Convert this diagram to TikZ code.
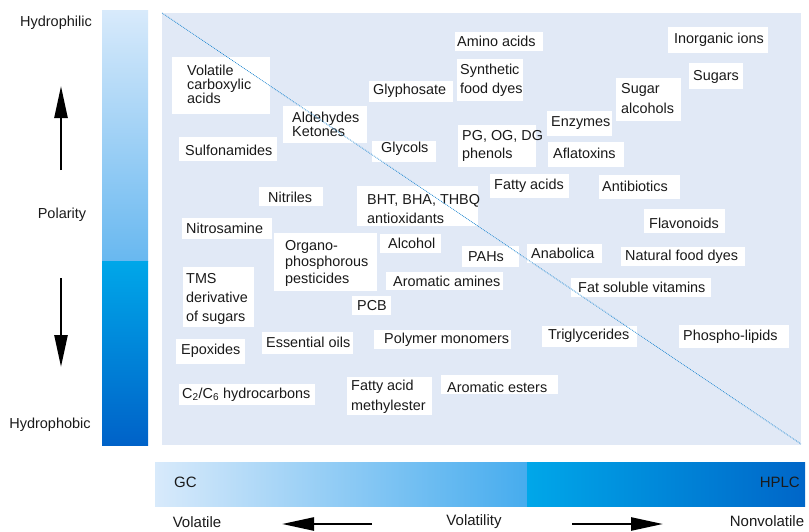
\documentclass[tikz,border=0pt]{standalone}
\usepackage{fontspec}
\setmainfont{Liberation Sans}
\usetikzlibrary{arrows.meta}
\definecolor{panelc}{RGB}{225,233,246}
\definecolor{txt}{RGB}{26,26,26}
\definecolor{barA}{RGB}{216,234,251}
\definecolor{barB}{RGB}{104,184,240}
\definecolor{barC}{RGB}{0,167,233}
\definecolor{barD}{RGB}{0,98,200}
\definecolor{hbarB}{RGB}{70,172,238}
\definecolor{hbarD}{RGB}{0,102,200}
\definecolor{diagc}{RGB}{40,140,210}
\tikzset{
  boxfill/.style={fill=white},
  lbl/.style={inner sep=0pt, text=txt, align=left},
  axislbl/.style={inner sep=0pt, text=txt, font=\fontsize{14.5}{17}\selectfont},
  bottomlbl/.style={inner sep=0pt, text=txt, font=\fontsize{15}{18}\selectfont},
  bigarrow/.style={line width=2.5pt, -{Triangle[length=32pt,width=13pt]}},
  diag/.style={diagc, line width=0.8pt, densely dotted}
}
\newcommand{\tbox}[9]{%
  \fill[boxfill] (#2,#3) rectangle (#4,#5);
  \node[lbl, anchor=west, font=\fontsize{14.4}{#9}\selectfont] (#1) at (#6,#7) {#8};}
\begin{document}
\begin{tikzpicture}[x=1pt,y=-1pt]
\useasboundingbox (0,0) rectangle (809,531);
% vertical polarity bar
\shade[top color=barA, bottom color=barB] (102,10) rectangle (148,261);
\shade[top color=barC, bottom color=barD] (102,261) rectangle (148,445);
% main panel
\fill[panelc] (162,13) rectangle (801,445);
% bottom volatility bar
\shade[left color=barA, right color=hbarB] (155,462) rectangle (527,506);
\shade[left color=barC, right color=hbarD] (527,462) rectangle (805,506);

% axis labels
\node[axislbl] (hphil) at (56,23) {Hydrophilic};
\node[axislbl] (polar) at (62,215) {Polarity};
\node[axislbl] (hphob) at (50,425) {Hydrophobic};
\node[bottomlbl, anchor=west] (gc) at (174,482) {GC};
\node[bottomlbl, anchor=east] (hplc) at (800,482) {HPLC};
\node[bottomlbl] (volat) at (197,522) {Volatile};
\node[bottomlbl] (volty) at (474,522) {Volatility};
\node[bottomlbl] (nonvol) at (767,521) {Nonvolatile};

% arrows
\coordinate (upS) at (61,170);
\coordinate (upE) at (61,86);
\coordinate (dnS) at (61,278);
\coordinate (dnE) at (61,367);
\coordinate (lfS) at (372,524);
\coordinate (lfE) at (282,524);
\coordinate (rtS) at (572,524);
\coordinate (rtE) at (663,524);
\draw[bigarrow] (upS) -- (upE);
\draw[bigarrow] (dnS) -- (dnE);
\draw[bigarrow] (lfS) -- (lfE);
\draw[bigarrow] (rtS) -- (rtE);

% compound boxes
\tbox{vca}{172}{57}{270}{114}{187}{84}{Volatile\\carboxylic\\acids}{14}
\tbox{sulf}{179}{137}{277}{161}{185}{150}{Sulfonamides}{17}
\tbox{nitros}{182}{218}{272}{239}{186}{228}{Nitrosamine}{17}
\tbox{tms}{183}{267}{254}{327}{186}{299}{TMS\\derivative\\of sugars}{19}
\tbox{epox}{176}{339}{245}{364}{181}{351}{Epoxides}{17}
\tbox{cc}{179}{384}{315}{405}{182}{395}{C\textsubscript{2}/C\textsubscript{6} hydrocarbons}{17}
\tbox{essoil}{262}{332}{353}{354}{266}{342}{Essential oils}{17}
\tbox{nitr}{259}{187}{323}{206}{268}{197}{Nitriles}{17}
\tbox{organo}{274}{233}{377}{291}{285}{263}{Organo-\\phosphorous\\pesticides}{16.5}
\tbox{aldket}{283}{106}{367}{143}{292}{124}{Aldehydes\\Ketones}{14}
\tbox{glyph}{369}{81}{453}{102}{373}{91}{Glyphosate}{17}
\tbox{glycols}{372}{141}{436}{162}{381}{149}{Glycols}{17}
\tbox{amino}{455}{32}{543}{51}{457}{41}{Amino acids}{17}
\tbox{synth}{457}{59}{523}{101}{460}{80}{Synthetic\\food dyes}{19}
\tbox{pgog}{458}{125}{536}{167}{462}{146}{PG, OG, DG\\phenols}{18}
\tbox{bht}{357}{186}{478}{226}{367}{209.5}{BHT, BHA, THBQ\\antioxidants}{19}
\tbox{fatty}{490}{174}{569}{198}{494}{186}{Fatty acids}{17}
\tbox{inorg}{668}{27}{768}{53}{674}{40}{Inorganic ions}{17}
\tbox{sugars}{689}{63}{743}{89}{693}{77}{Sugars}{17}
\tbox{sugalc}{616}{78}{681}{121}{621}{98.5}{Sugar\\alcohols}{20}
\tbox{enz}{547}{111}{612}{136}{551}{123}{Enzymes}{17}
\tbox{afla}{548}{142}{624}{167}{553}{153}{Aflatoxins}{17}
\tbox{antib}{599}{175}{680}{199}{602}{186}{Antibiotics}{17}
\tbox{alcohol}{380}{234}{441}{253}{388}{243}{Alcohol}{17}
\tbox{pahs}{462}{246}{519}{267}{468}{257}{PAHs}{17}
\tbox{aramin}{386}{272}{503}{290}{393}{281}{Aromatic amines}{17}
\tbox{pcb}{352}{296}{391}{315}{357}{306}{PCB}{17}
\tbox{polym}{374}{330}{511}{349}{384}{340}{Polymer monomers}{17}
\tbox{fame}{347}{377}{432}{415}{351}{397}{Fatty acid\\methylester}{20}
\tbox{arest}{441}{375}{558}{394}{447}{387}{Aromatic esters}{17}
\tbox{anab}{527}{244}{602}{263}{531}{253}{Anabolica}{17}
\tbox{flav}{644}{209}{725}{233}{649}{223}{Flavonoids}{17}
\tbox{natfd}{621}{247}{745}{266}{625}{257}{Natural food dyes}{17}
\tbox{fatsol}{571}{278}{711}{297}{578}{287}{Fat soluble vitamins}{17}
\tbox{trig}{542}{326}{637}{347}{548}{336}{Triglycerides}{17}
\tbox{phos}{679}{325}{789}{348}{683}{337}{Phospho-lipids}{17}

% diagonal separator
\coordinate (dgS) at (162,13);
\coordinate (dgE) at (801,444);
\draw[diag] (dgS) -- (dgE);
\end{tikzpicture}
\end{document}
